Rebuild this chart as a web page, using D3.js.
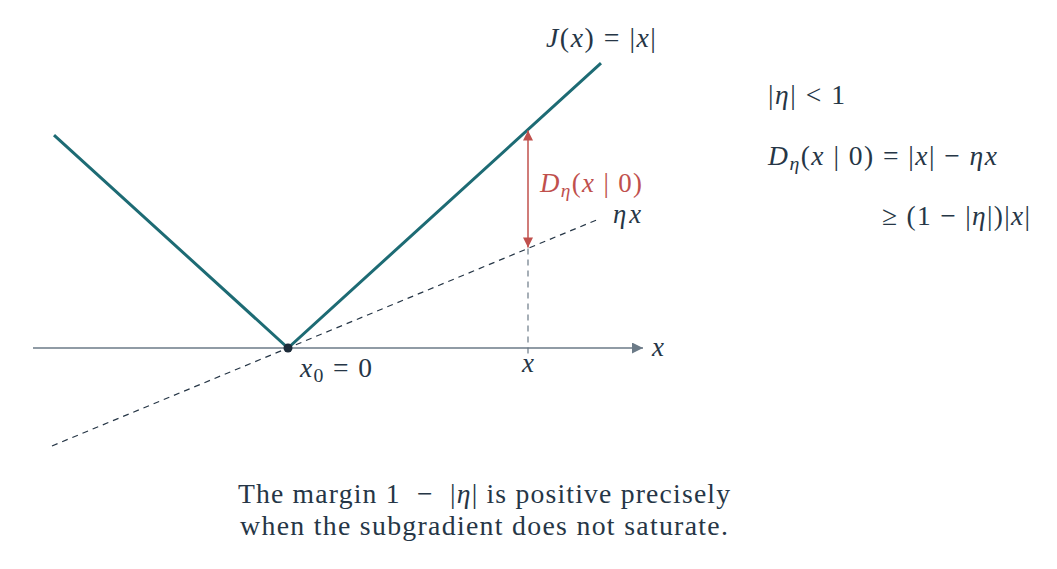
<!DOCTYPE html>
<html><head><meta charset="utf-8">
<script src="https://cdn.jsdelivr.net/npm/d3@7"></script>
<style>html,body{margin:0;padding:0;background:#fff;} svg{display:block;} text{font-family:"Liberation Serif","DejaVu Serif",serif;}</style>
</head><body>
<svg id="c" width="1057" height="569"></svg>
<script>
// ---- data ----
const xDomain = [-2.55, 3.55];          // horizontal axis extent
const jX = [-2.34, 0, 3.13];            // J(x) = |x| break points
const eta = 0.456;                      // slope of supporting line
const etaX = [-2.36, 3.10];             // extent of dashed line eta*x
const xMark = 2.4;                      // marked point x
const x0 = 0;

const svg = d3.select("#c");
const x = d3.scaleLinear().domain([0, 1]).range([288, 388]);
const y = d3.scaleLinear().domain([0, 1]).range([348, 257]);

const TEAL = "#1d6b74", AX = "#6b7a87", DARK = "#263646", RED = "#c0504d";

const defs = svg.append("defs");
defs.append("marker").attr("id","axArrow").attr("viewBox","0 0 10 10").attr("refX",10).attr("refY",5)
  .attr("markerWidth",16).attr("markerHeight",11).attr("markerUnits","userSpaceOnUse").attr("orient","auto")
  .append("path").attr("d","M0,0L10,5L0,10Z").attr("fill",AX);
defs.append("marker").attr("id","redArrow").attr("viewBox","0 0 10 10").attr("refX",10).attr("refY",5)
  .attr("markerWidth",13).attr("markerHeight",10).attr("markerUnits","userSpaceOnUse").attr("orient","auto-start-reverse")
  .append("path").attr("d","M0,0L10,5L0,10Z").attr("fill",RED);

// axis
svg.append("line").attr("x1", x(xDomain[0])).attr("x2", x(xDomain[1])).attr("y1", y(0)).attr("y2", y(0))
  .attr("stroke", AX).attr("stroke-width", 1.6).attr("marker-end","url(#axArrow)");

// dashed eta*x line
const line = d3.line().x(d => x(d[0])).y(d => y(d[1]));
svg.append("path").attr("d", line(etaX.map(v => [v, eta*v])))
  .attr("fill","none").attr("stroke", DARK).attr("stroke-width",1.2).attr("stroke-dasharray","6,5");

// vertical dashed at xMark
svg.append("line").attr("x1", x(xMark)).attr("x2", x(xMark)).attr("y1", y(eta*xMark)).attr("y2", y(0)+6)
  .attr("stroke", AX).attr("stroke-width",1.2).attr("stroke-dasharray","6,5");

// J(x)
svg.append("path").attr("d", line(jX.map(v => [v, Math.abs(v)])))
  .attr("fill","none").attr("stroke", TEAL).attr("stroke-width",3);

// red arrow
svg.append("line").attr("x1", x(xMark)).attr("x2", x(xMark))
  .attr("y1", y(Math.abs(xMark))+1).attr("y2", y(eta*xMark)-1)
  .attr("stroke", RED).attr("stroke-width",1.5)
  .attr("marker-start","url(#redArrow)").attr("marker-end","url(#redArrow)");

// origin dot
svg.append("circle").attr("cx", x(x0)).attr("cy", y(0)).attr("r", 4.5).attr("fill", "#1c2b39");

// text helper: parts [text, italic, sub, unsub]
function mtext(px, py, parts, opts = {}) {
  const size = opts.size || 23;
  const t = svg.append("text").attr("x", px).attr("y", py)
    .attr("font-size", size).attr("xml:space","preserve")
    .attr("fill", opts.fill || DARK).attr("text-anchor", opts.anchor || "start");
  parts.forEach(p => {
    const s = t.append("tspan").text(p[0]);
    if (p[1]) s.attr("font-style","italic");
    if (p[2]) s.attr("font-size", size*0.72).attr("dy", 5).attr("class","sub");
    if (p[3]) s.attr("dy", -5);
  });
  if (opts.width) {
    const w0 = t.node().getComputedTextLength();
    const r = opts.width / w0;
    const ns = size * (1 + (r - 1) * 0.55);
    t.attr("font-size", ns);
    t.selectAll("tspan.sub").attr("font-size", ns * 0.72);
    const w1 = t.node().getComputedTextLength();
    const n = parts.reduce((a,p)=>a+p[0].length,0);
    const ls = (opts.width - w1) / Math.max(1, n - 1);
    t.attr("letter-spacing", ls.toFixed(2));
    if (opts.anchor === "middle") t.attr("x", px + ls/2);
  }
  return t;
}

mtext(546, 47, [["J",1],["("],["x",1],[") = |"],["x",1],["|"]], {size:23, width:110});
mtext(540, 192, [["D",1],["η",1,1],["(",0,0,1],["x",1],[" | 0)"]], {fill:RED, size:23, width:102});
mtext(613, 223, [["ηx",1]], {size:23, width:28});
mtext(652, 356, [["x",1]], {size:27});
mtext(528, 372, [["x",1]], {size:27, anchor:"middle"});
mtext(300, 377, [["x",1,0],["0",0,1],[" = 0",0,0,1]], {size:24, width:72});

mtext(768, 104, [["|"],["η",1],["| < 1"]], {size:23, width:77});
mtext(768, 165, [["D",1],["η",1,1],["(",0,0,1],["x",1],[" | 0) = |"],["x",1],["| − "],["ηx",1]], {size:23, width:229});
mtext(882, 225, [["≥ (1 − |"],["η",1],["|)|"],["x",1],["|"]], {size:23, width:148});

mtext(484, 503, [["The margin 1  −  |"],["η",1],["| is positive precisely"]], {anchor:"middle", size:24, width:492});
mtext(484, 535, [["when the subgradient does not saturate."]], {anchor:"middle", size:24, width:488});
</script>
</body></html>
